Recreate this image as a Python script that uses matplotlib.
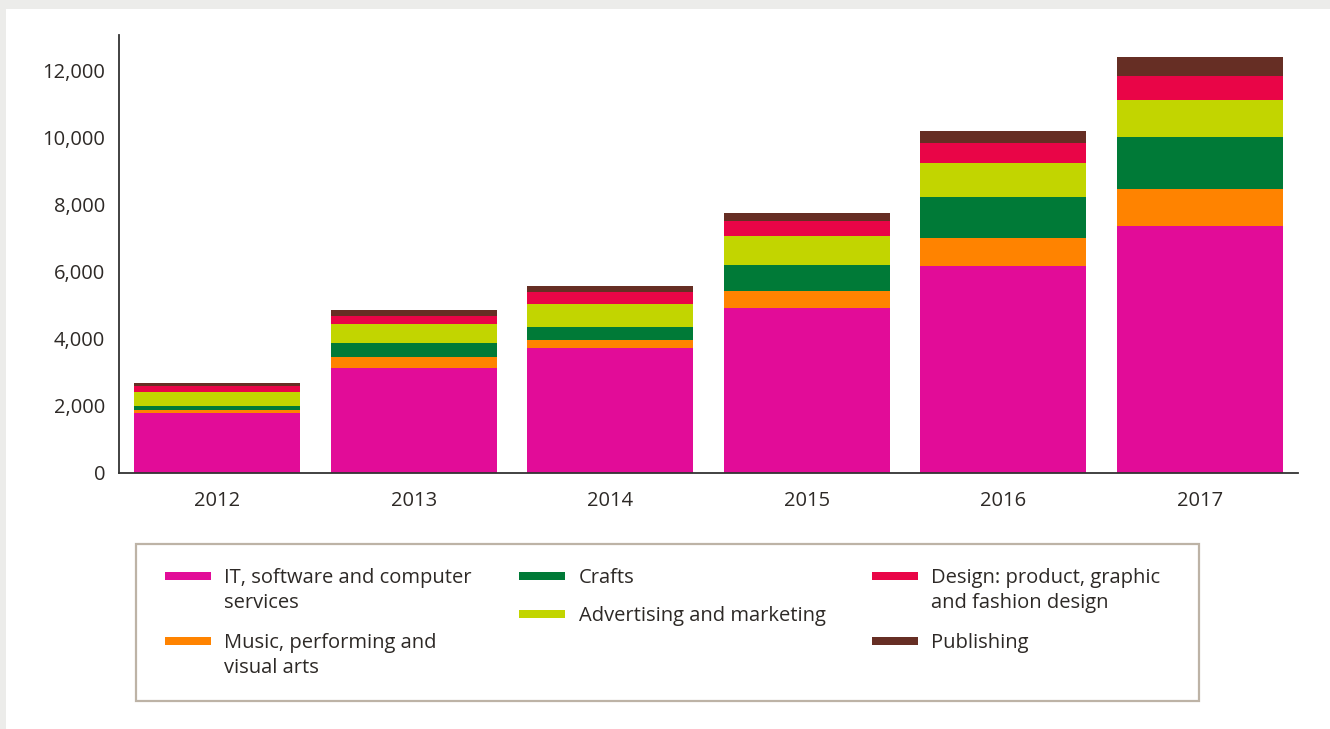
import matplotlib
matplotlib.use("Agg")
import matplotlib.pyplot as plt
from matplotlib.patches import Rectangle
import numpy as np

plt.rcParams['font.family'] = ['Open Sans', 'DejaVu Sans']

# Creative-industry series, stacked bottom to top
years = ["2012", "2013", "2014", "2015", "2016", "2017"]
it_software = [1782, 3125, 3722, 4916, 6170, 7364]
music_arts = [90, 329, 239, 508, 836, 1105]
crafts = [119, 418, 388, 776, 1224, 1552]
advertising = [418, 567, 687, 866, 1015, 1104]
design = [179, 239, 358, 447, 597, 726]
publishing = [90, 179, 179, 239, 358, 558]

series = [
    ("IT, software and computer\nservices", it_software, "#e20c98"),
    ("Music, performing and\nvisual arts", music_arts, "#ff8300"),
    ("Crafts", crafts, "#007a37"),
    ("Advertising and marketing", advertising, "#c2d500"),
    ("Design: product, graphic\nand fashion design", design, "#e90547"),
    ("Publishing", publishing, "#662e24"),
]
y_ticks = [0, 2000, 4000, 6000, 8000, 10000, 12000]

TEXT = "#2d2926"
W, H = 1330, 729

fig = plt.figure(figsize=(W / 100, H / 100), dpi=100, facecolor="white")

# light grey frame strips along the top and left edges
fig.patches.append(Rectangle((0, 1 - 9 / H), 1, 9 / H, transform=fig.transFigure,
                             facecolor="#ececea", edgecolor="none", zorder=0))
fig.patches.append(Rectangle((0, 0), 6 / W, 1, transform=fig.transFigure,
                             facecolor="#ececea", edgecolor="none", zorder=0))

ax = fig.add_axes([119 / W, (H - 472.7) / H, (1298 - 119) / W, (472.7 - 35) / H])
x = np.arange(len(years))
bottom = np.zeros(len(years))
for label, vals, color in series:
    ax.bar(x, vals, width=0.845, bottom=bottom, color=color, linewidth=0)
    bottom += np.array(vals)

ax.set_xlim(-0.5, len(years) - 0.5)
ax.set_ylim(0, 13066)
ax.set_yticks(y_ticks)
ax.set_yticklabels([f"{v:,}" for v in y_ticks])
ax.set_xticks(x)
ax.set_xticklabels(years)
ax.tick_params(axis="both", length=0, labelsize=14.5, colors=TEXT)
ax.tick_params(axis="y", pad=10)
ax.tick_params(axis="x", pad=13)
for s in ("top", "right"):
    ax.spines[s].set_visible(False)
for s in ("left", "bottom"):
    ax.spines[s].set_color("#333333")
    ax.spines[s].set_linewidth(1.3)

# legend panel drawn in pixel coordinates
lg = fig.add_axes([0, 0, 1, 1], facecolor="none")
lg.set_xlim(0, W)
lg.set_ylim(H, 0)
lg.axis("off")
lg.add_patch(Rectangle((136, 544), 1063, 157, facecolor="none",
                       edgecolor="#bdb3a6", linewidth=1.6))

entries = [
    (0, 165, 224, 583),
    (1, 165, 224, 648),
    (2, 519, 579, 583),
    (3, 519, 579, 621),
    (4, 872, 931, 583),
    (5, 872, 931, 648),
]
LINE_GAP = 25
for idx, hx, tx, base in entries:
    label, _, color = series[idx]
    lg.add_patch(Rectangle((hx, base - 11), 46, 8, facecolor=color, edgecolor="none"))
    for i, line in enumerate(label.split("\n")):
        lg.text(tx, base + i * LINE_GAP, line, fontsize=14.5, color=TEXT,
                va="baseline", ha="left")

fig.savefig("out.png", dpi=100, facecolor="white")
